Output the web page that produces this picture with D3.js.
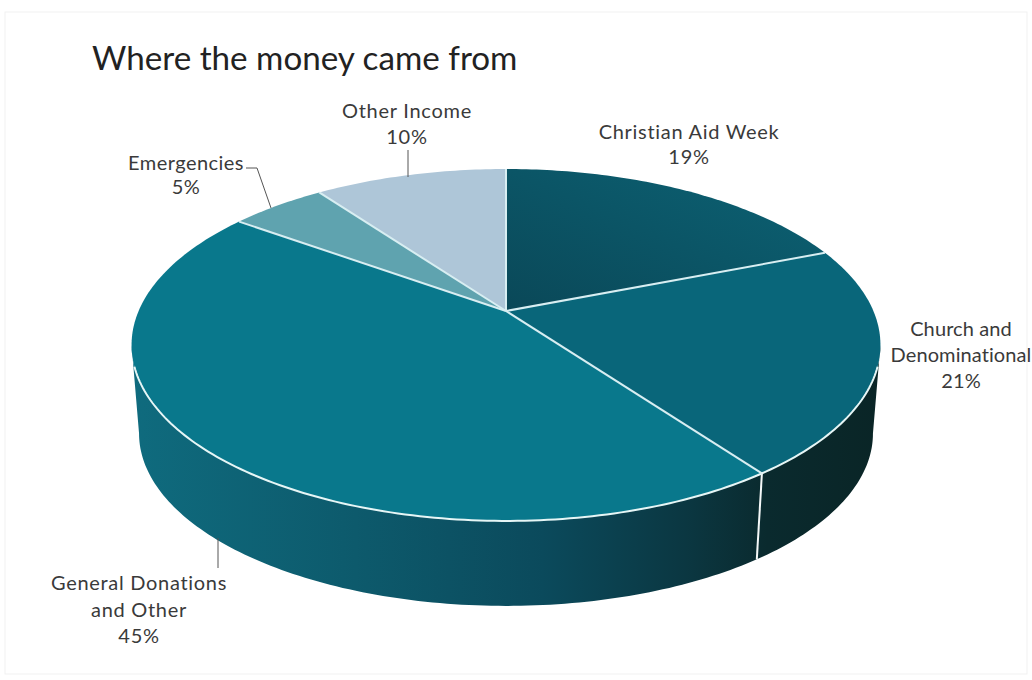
<!DOCTYPE html>
<html><head><meta charset="utf-8">
<script src="https://cdn.jsdelivr.net/npm/d3@7"></script>
<style>html,body{margin:0;padding:0;background:#fff}svg{display:block}text{font-family:Lato,"Open Sans",sans-serif;fill:#3a3a3a}</style>
</head><body><div id="c"></div>
<script>
const title = "Where the money came from";
const categories = ["Christian Aid Week","Church and Denominational","General Donations and Other","Emergencies","Other Income"];
const values = [19,21,45,5,10];
const labelLines = [["Christian Aid Week","19%"],["Church and","Denominational","21%"],["General Donations","and Other","45%"],["Emergencies","5%"],["Other Income","10%"]];
const topColors = ["#0b5a6a","#09667a","#09788c","#5fa3af","#aec6d8"];

const W=1032,H=680;
const svg=d3.select("#c").append("svg").attr("width",W).attr("height",H);
svg.append("rect").attr("x",5).attr("y",12).attr("width",1022).attr("height",662).attr("fill","none").attr("stroke","#f1f1f1");
const defs=svg.append("defs");
const sideGrad=defs.append("linearGradient").attr("id","side").attr("gradientUnits","userSpaceOnUse")
  .attr("x1",131).attr("x2",880).attr("y1",0).attr("y2",0);
[[0,"#0f6b7e"],[0.3,"#0d5a6c"],[0.55,"#0b4a5c"],[0.75,"#0b3640"],[0.85,"#0a2a2e"],[1,"#0a2526"]].forEach(s=>sideGrad.append("stop").attr("offset",s[0]).attr("stop-color",s[1]));
const cAid=defs.append("linearGradient").attr("id","aid").attr("x1",0).attr("x2",1).attr("y1",1).attr("y2",0);
[[0,"#0a4858"],[1,"#0c6274"]].forEach(s=>cAid.append("stop").attr("offset",s[0]).attr("stop-color",s[1]));

// perspective projection of the pie disc
const cx=506,cy=311,k=-0.193,a=169.4,b=367.4;
const project=t=>{const u=Math.sin(t),v=-Math.cos(t),d=1+k*v;return [cx+b*u/d,cy+a*v/d];};
const s=0.98,ey=345,by=433.5;
const lower=p=>[cx+s*(p[0]-cx),by+s*(p[1]-ey)];
const arcs=d3.pie().sort(null)(values);
const line=d3.line();
const sample=(t0,t1)=>{const n=Math.max(2,Math.ceil(Math.abs(t1-t0)*60));return d3.range(n+1).map(i=>project(t0+(t1-t0)*i/n));};

// tangent angles (extreme x of rim)
const tRight=Math.acos(k);
const tLeft=2*Math.PI-tRight;
const split=arcs[1].endAngle;

// side walls
const wall=(t0,t1)=>{const u=sample(t0,t1);return line(u.concat(u.slice().reverse().map(lower)))+"Z";};
svg.append("path").attr("d",wall(tRight,tLeft)).attr("fill","url(#side)");
const edge=project(split);
svg.append("path").attr("d",line([edge,lower(edge)])).attr("stroke","#f4f8f8").attr("stroke-width",2).attr("fill","none");

// top slices
arcs.forEach((d,i)=>{
  const pts=[[cx,cy]].concat(sample(d.startAngle,d.endAngle));
  svg.append("path").attr("d",line(pts)+"Z").attr("fill",i===0?"url(#aid)":topColors[i]);
});
// rim highlight
svg.append("path").attr("d",line(sample(tRight+0.12,tLeft-0.12))).attr("fill","none").attr("stroke","#e6f6f6").attr("stroke-width",2);
// slice dividers
arcs.forEach(d=>{
  svg.append("path").attr("d",line([[cx,cy],project(d.startAngle)])).attr("stroke","#d8eef2").attr("stroke-width",2).attr("fill","none");
});

// title
svg.append("text").attr("x",92).attr("y",70).attr("font-size",33.2).style("fill","#222").text(title);

// labels
const labelAnchor=[[689,139],[961,336],[139,590],[186,170],[407,118]];
const labelStep=[25,26,26.5,24,26];
const labelSpacing=[0.7,0.1,0.7,0.45,0.75];
labelLines.forEach((ls,i)=>{
  const t=svg.append("text").attr("text-anchor","middle").attr("font-size",20).attr("letter-spacing",labelSpacing[i]);
  ls.forEach((l,j)=>t.append("tspan").attr("x",labelAnchor[i][0]).attr("y",labelAnchor[i][1]+j*labelStep[i]).text(l));
});
// leaders
const leaders=[[[408,150],[408,177]],[[218,538],[218,568]],[[246,168],[257,168],[271,208]]];
leaders.forEach(l=>svg.append("path").attr("d",line(l)).attr("fill","none").attr("stroke","#555").attr("stroke-width",1));
</script></body></html>
